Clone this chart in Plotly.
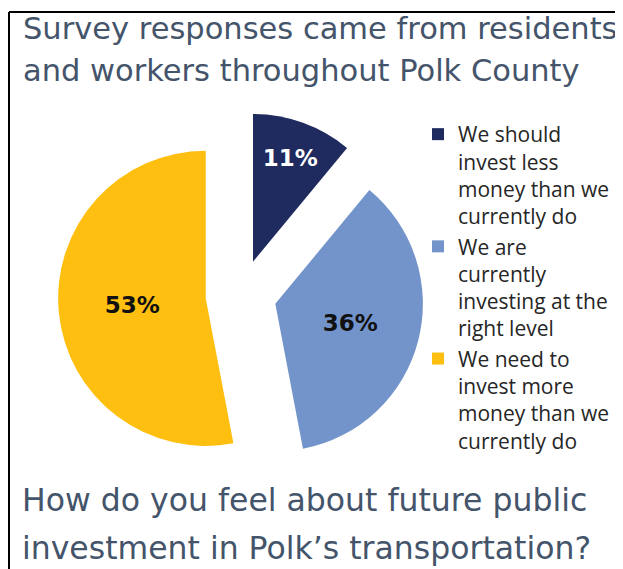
import plotly.graph_objects as go

labels = [
    "We should<br>invest less<br>money than we<br>currently do",
    "We are<br>currently<br>investing at the<br>right level",
    "We need to<br>invest more<br>money than we<br>currently do",
]
values = [11, 36, 53]
colors = ["#1F2A5E", "#7294CB", "#FEBF10"]
text_colors = ["#FFFFFF", "#111111", "#111111"]

title_lines = ["Survey responses came from residents", "and workers throughout Polk County"]
bottom_lines = ["How do you feel about future public", "investment in Polk’s transportation?"]

# page body has an 8px margin; size the figure so it fills the 623x569 window
OFF = 8
W, H = 623 - OFF, 569 - OFF
FONT = "DejaVu Sans"
SLATE = "#44546A"


def px(x):
    return (x - OFF) / W


def py(y):
    return 1 - (y - OFF) / H


fig = go.Figure(
    go.Pie(
        labels=labels,
        values=values,
        sort=False,
        direction="clockwise",
        rotation=0,
        pull=[0.24, 0.24, 0.24],
        marker=dict(colors=colors, line=dict(width=0)),
        texttemplate="<b>%{percent:.0%}</b>",
        textposition="inside",
        insidetextorientation="horizontal",
        textfont=dict(family=FONT, size=23, color=text_colors),
        domain=dict(x=[px(58), px(424)], y=[py(478), py(112)]),
        hoverinfo="skip",
    )
)

annotations = []
for line, top in zip(title_lines, [9, 51]):
    annotations.append(dict(
        text=line, x=px(21), y=py(top), xref="paper", yref="paper",
        xanchor="left", yanchor="top", align="left", showarrow=False,
        font=dict(family=FONT, size=30.5, color=SLATE),
    ))
for line, top in zip(bottom_lines, [480, 528]):
    annotations.append(dict(
        text=line, x=px(20), y=py(top), xref="paper", yref="paper",
        xanchor="left", yanchor="top", align="left", showarrow=False,
        font=dict(family=FONT, size=31.5, color=SLATE),
    ))

fig.update_layout(
    width=W,
    height=H,
    margin=dict(l=0, r=0, t=0, b=0),
    paper_bgcolor="white",
    plot_bgcolor="white",
    showlegend=True,
    legend=dict(
        x=px(418),
        y=py(114),
        xanchor="left",
        yanchor="top",
        valign="top",
        font=dict(family="Open Sans", size=21, color="#262626"),
        bgcolor="rgba(0,0,0,0)",
    ),
    annotations=annotations,
    shapes=[
        dict(type="line", xref="paper", yref="paper", x0=px(9), x1=px(617),
             y0=py(12), y1=py(12), line=dict(color="black", width=2)),
        dict(type="line", xref="paper", yref="paper", x0=px(9), x1=px(9),
             y0=py(12), y1=0, line=dict(color="black", width=2)),
    ],
)

fig.write_html("out.html")
